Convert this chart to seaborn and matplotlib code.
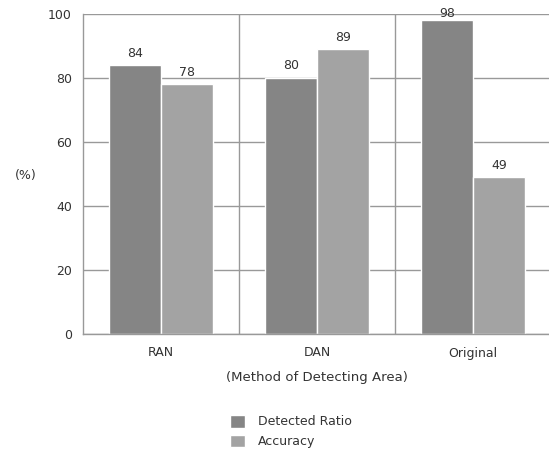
import pandas as pd
import numpy as np
import matplotlib.pyplot as plt
import seaborn as sns

# data
methods = ['RAN', 'DAN', 'Original']
detected_ratio = [84, 80, 98]
accuracy = [78, 89, 49]
series_names = ['Detected Ratio', 'Accuracy']

df = pd.DataFrame({
    'method': methods * 2,
    'value': detected_ratio + accuracy,
    'series': [series_names[0]] * 3 + [series_names[1]] * 3,
})

sns.set_style("white")
plt.rcParams['font.family'] = ['DejaVu Sans']
txt = '#333333'
line = '#999999'

fig = plt.figure(figsize=(5.49, 4.5), dpi=100)
ax = fig.add_axes([83 / 549, 1 - 334 / 450, 468 / 549, 320 / 450])

sns.barplot(data=df, x='method', y='value', hue='series', ax=ax,
            palette=['#858585', '#a3a3a3'], width=0.67,
            edgecolor='white', linewidth=1, saturation=1, legend=True)

ax.set_ylim(0, 100)
ax.set_xlim(-0.5, 2.5)
ax.set_yticks([0, 20, 40, 60, 80, 100])
ax.yaxis.grid(True, color=line, linewidth=1)
ax.set_axisbelow(True)
for xv in [0.5, 1.5]:
    ax.axvline(xv, color=line, linewidth=1, zorder=0.5)

for s in ['top', 'right']:
    ax.spines[s].set_visible(False)
for s in ['left', 'bottom']:
    ax.spines[s].set_color(line)
    ax.spines[s].set_linewidth(1)

ax.tick_params(axis='both', length=0, colors=txt, labelsize=9)
ax.tick_params(axis='y', pad=8)
ax.tick_params(axis='x', pad=9)

for c in ax.containers:
    labels = ax.bar_label(c, padding=4, fontsize=9, color=txt)
    for t, bar in zip(labels, c):
        # the label of a bar near the top sits lower, over the 100 line
        if bar.get_height() > 95:
            t.xyann = (0, 0)

ax.set_ylabel('')
ax.set_xlabel('(Method of Detecting Area)', fontsize=9.5, color=txt, labelpad=8)
fig.text(15 / 549, 1 - 175 / 450, '(%)', fontsize=9, color=txt, va='center')

handles, labels = ax.get_legend_handles_labels()
ax.get_legend().remove()
fig.legend(handles, labels, loc='upper left', bbox_to_anchor=(0.406, 0.095),
           frameon=False, fontsize=9, handlelength=1.2, handleheight=1.2,
           labelspacing=0.5, handletextpad=1.0, labelcolor=txt,
           borderaxespad=0.2)

fig.savefig('out.png', dpi=100)
plt.close()
